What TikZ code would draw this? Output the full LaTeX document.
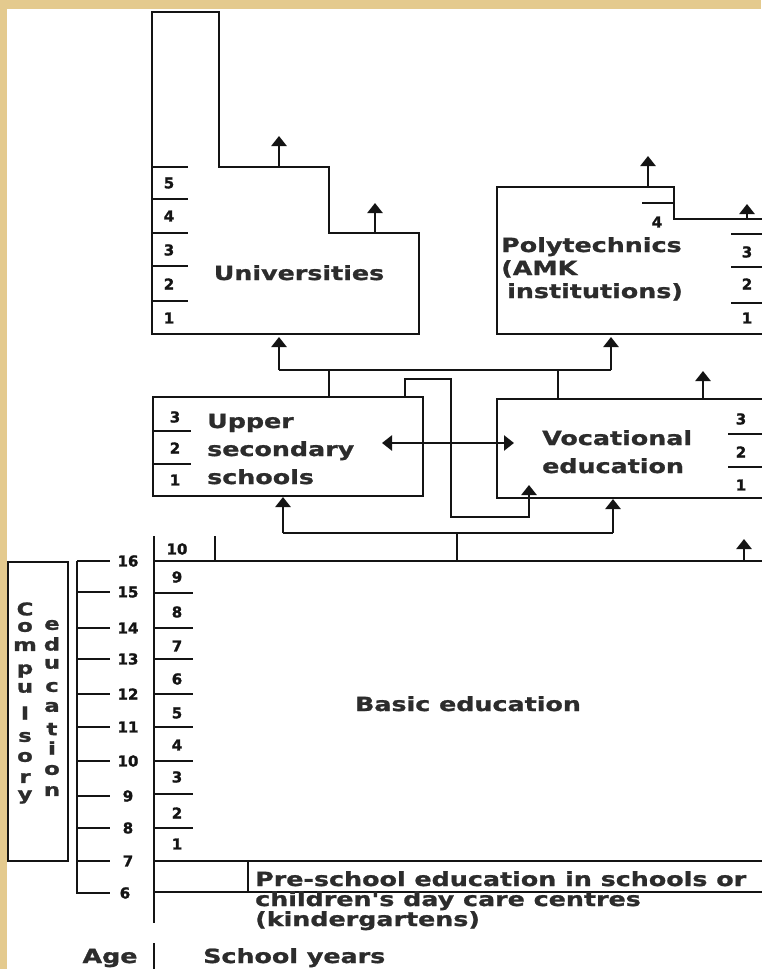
\documentclass[tikz,border=0pt]{standalone}
\usepackage{fontspec}
\newfontfamily\txtfont{DejaVu Sans Bold}[FakeStretch=1.3, FakeBold=1.2]
\newfontfamily\numfont{DejaVu Sans Bold}[FakeBold=1.5]
\usetikzlibrary{arrows.meta}
\definecolor{bgtan}{RGB}{228,202,142}
\definecolor{ink}{RGB}{20,20,20}
\tikzset{
  ln/.style={line width=2.6pt, line join=miter, draw=ink},
  arr/.style={ln, -{Triangle[width=15pt,length=10pt]}},
  dbl/.style={ln, {Triangle[width=15pt,length=10pt]}-{Triangle[width=15pt,length=10pt]}},
  lbl/.style={font=\txtfont\fontsize{19.5}{22}\selectfont, inner sep=0pt, text=ink!90},
  vlet/.style={font=\txtfont\fontsize{17.5}{18}\selectfont, inner sep=0pt, text=ink!90},
  num/.style={font=\numfont\fontsize{15}{15}\selectfont, inner sep=0pt, text=ink}
}
\begin{document}
\begin{tikzpicture}[x=1pt,y=-1pt]
\useasboundingbox (0,0) rectangle (761,969);
\fill[bgtan] (0,0) rectangle (761,969);
\fill[white] (7,9) rectangle (761,969);

% ---------------- Universities
\draw[ln] (152,12) -- (219,12) -- (219,167) -- (329,167) -- (329,233) -- (419,233) -- (419,334) -- (152,334) -- cycle;
\foreach \y in {167,199,233,266,301} \draw[ln] (152,\y) -- (188,\y);
\foreach \t/\y in {5/183,4/216,3/250,2/284,1/318} \node[num] (uy\t) at (169,\y) {\t};
\node[lbl, anchor=base] (uni) at (299,280) {Universities};
\coordinate (ua1) at (279,167); \coordinate (ua1t) at (279,136);
\coordinate (ua2) at (375,233); \coordinate (ua2t) at (375,203);
\draw[arr] (ua1) -- (ua1t);
\draw[arr] (ua2) -- (ua2t);

% ---------------- Polytechnics
\draw[ln] (765,334) -- (497,334) -- (497,187) -- (674,187) -- (674,219) -- (765,219);
\draw[ln] (642,203) -- (674,203);
\node[num] (py4) at (657,222) {4};
\foreach \y in {234,267,303} \draw[ln] (731,\y) -- (765,\y);
\foreach \t/\y in {3/252,2/284,1/318} \node[num] (py\t) at (747,\y) {\t};
\node[lbl, anchor=base west] (poly1) at (501,252) {Polytechnics};
\node[lbl, anchor=base west] (poly2) at (501,275) {(AMK};
\node[lbl, anchor=base west] (poly3) at (507,298) {institutions)};
\coordinate (pa1) at (648,187); \coordinate (pa1t) at (648,156);
\coordinate (pa2) at (747,219); \coordinate (pa2t) at (747,204);
\draw[arr] (pa1) -- (pa1t);
\draw[arr] (pa2) -- (pa2t);

% ---------------- Upper secondary schools
\draw[ln] (153,397) rectangle (423,496);
\draw[ln] (153,431) -- (191,431);
\draw[ln] (153,464) -- (191,464);
\foreach \t/\y in {3/417,2/448,1/480} \node[num] (sy\t) at (175,\y) {\t};
\node[lbl, anchor=base west] (us1) at (207,428) {Upper};
\node[lbl, anchor=base west] (us2) at (207,456) {secondary};
\node[lbl, anchor=base west] (us3) at (207,484) {schools};

% ---------------- Vocational education
\draw[ln] (765,399) -- (497,399) -- (497,498) -- (765,498);
\draw[ln] (728,434) -- (765,434);
\draw[ln] (728,467) -- (765,467);
\foreach \t/\y in {3/419,2/452,1/485} \node[num] (vy\t) at (741,\y) {\t};
\node[lbl, anchor=base west] (ve1) at (542,445) {Vocational};
\node[lbl, anchor=base west] (ve2) at (542,473) {education};
\coordinate (va) at (703,399); \coordinate (vat) at (703,371);
\draw[arr] (va) -- (vat);

% ---------------- connectors between levels
\coordinate (jl) at (279,370); \coordinate (jr) at (611,370);
\coordinate (unib) at (279,337); \coordinate (polyb) at (611,337);
\coordinate (s1) at (329,370); \coordinate (s1b) at (329,397);
\coordinate (s2) at (558,370); \coordinate (s2b) at (558,399);
\draw[ln] (jl) -- (jr);
\draw[arr] (jl) -- (unib);
\draw[arr] (jr) -- (polyb);
\draw[ln] (s1) -- (s1b);
\draw[ln] (s2) -- (s2b);

\coordinate (ls0) at (405,397);
\coordinate (ls1) at (405,379);
\coordinate (ls2) at (451,379);
\coordinate (ls3) at (451,517);
\coordinate (ls4) at (529,517);
\coordinate (ls5) at (529,485);
\draw[arr] (ls0) -- (ls1) -- (ls2) -- (ls3) -- (ls4) -- (ls5);

\coordinate (da) at (382,443); \coordinate (db) at (514,443);
\draw[dbl] (da) -- (db);

\coordinate (bt) at (457,561); \coordinate (bj) at (457,533);
\coordinate (bl) at (283,533); \coordinate (br) at (613,533);
\coordinate (blt) at (283,497); \coordinate (brt) at (613,499);
\draw[ln] (bt) -- (bj);
\draw[ln] (bl) -- (br);
\draw[arr] (bl) -- (blt);
\draw[arr] (br) -- (brt);

% ---------------- Basic education
\draw[ln] (154,536) -- (154,923);
\draw[ln] (154,561) -- (765,561);
\draw[ln] (215,536) -- (215,561);
\node[num] (by10) at (177,549) {10};
\foreach \y in {593,628,659,694,727,761,794,828} \draw[ln] (154,\y) -- (193,\y);
\draw[ln] (154,861) -- (765,861);
\foreach \t/\y in {9/577,8/612,7/646,6/679,5/713,4/745,3/777,2/813,1/844} \node[num] (by\t) at (177,\y) {\t};
\node[lbl, anchor=base] (basic) at (468,711) {Basic education};
\coordinate (ba) at (744,561); \coordinate (bat) at (744,539);
\draw[arr] (ba) -- (bat);

% ---------------- Pre-school
\draw[ln] (248,861) -- (248,893);
\draw[ln] (154,892) -- (765,892);
\node[lbl, anchor=base west] (pre1) at (255,886) {Pre-school education in schools or};
\node[lbl, anchor=base west] (pre2) at (255,906) {children's day care centres};
\node[lbl, anchor=base west] (pre3) at (255,926) {(kindergartens)};

% ---------------- Age axis
\draw[ln] (77,561) -- (77,893) -- (110,893);
\foreach \y in {561,592,628,659,694,727,761,796,828,861} \draw[ln] (77,\y) -- (110,\y);
\foreach \t/\y in {16/561,15/592,14/628,13/659,12/694,11/727,10/761,9/796,8/828,7/861} \node[num] (ag\t) at (128,\y) {\t};
\node[num] (ag6) at (125,893) {6};

% ---------------- Compulsory education
\draw[ln] (8,562) rectangle (68,861);
\foreach \l/\y [count=\i] in {C/609,o/627,m/646,p/671,u/688,l/713,s/737,o/757,r/778,y/797}
  \node[vlet] (ca\i) at (25,\y) {\l};
\foreach \l/\y [count=\i] in {e/625,d/644,u/664,c/687,a/707,t/729,i/748,o/770,n/791}
  \node[vlet] (cb\i) at (52,\y) {\l};

% ---------------- bottom labels
\node[lbl, anchor=base] (age) at (110,963) {Age};
\draw[ln] (154,943) -- (154,969);
\node[lbl, anchor=base west] (sy) at (203,963) {School years};
\end{tikzpicture}
\end{document}
